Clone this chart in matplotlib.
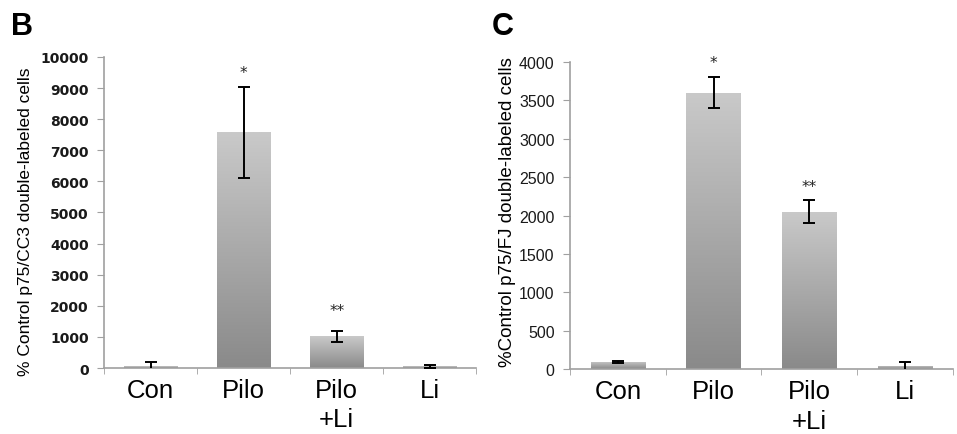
import numpy as np
import matplotlib.pyplot as plt
from matplotlib.colors import LinearSegmentedColormap

categories = ['Con', 'Pilo', 'Pilo\n+Li', 'Li']

# panel B: p75/CC3
b_values = [60, 7580, 1020, 50]
b_err = [140, 1470, 180, 50]
b_stars = ['', '*', '**', '']
b_star_y = [0, 9500, 1850, 0]

# panel C: p75/FJ
c_values = [92, 3600, 2050, 40]
c_err = [12, 200, 150, 60]
c_stars = ['', '*', '**', '']
c_star_y = [0, 4000, 2380, 0]

grad = LinearSegmentedColormap.from_list('g', ['#8a8a8a', '#c9c9c9'])


def panel(ax, values, err, stars, star_y, ymax, ystep, ylabel, lab_size,
          tickfont, ticksize, tickweight):
    x = np.arange(len(values))
    bars = ax.bar(x, values, width=0.57, color='none', edgecolor='none', zorder=2)
    for b in bars:
        x0, y0 = b.get_x(), b.get_y()
        w, h = b.get_width(), b.get_height()
        img = ax.imshow(np.linspace(1, 0, 100).reshape(-1, 1), cmap=grad, aspect='auto',
                        extent=[x0, x0 + w, y0, y0 + h], zorder=2, interpolation='bilinear')
        img.set_clip_path(b)
    ax.errorbar(x, values, yerr=err, fmt='none', ecolor='black', elinewidth=1.4,
                capsize=4.5, capthick=1.4, zorder=3)
    for xi, s, sy in zip(x, stars, star_y):
        if s:
            ax.text(xi, sy, s, ha='center', va='center', fontsize=11, color='#222222')
    ax.set_xlim(-0.5, len(values) - 0.5)
    ax.set_ylim(0, ymax)
    ax.set_yticks(np.arange(0, ymax + 1, ystep))
    ax.set_xticks(x)
    ax.set_xticklabels(categories, fontsize=18.5, family='Liberation Sans', linespacing=1.3)
    ax.set_xticks(np.arange(-0.5, len(values)), minor=True)
    ax.tick_params(axis='x', which='major', length=0, pad=7)
    ax.tick_params(axis='x', which='minor', length=4, color='#a0a0a0')
    ax.tick_params(axis='y', length=5, color='#a0a0a0', pad=6)
    for lab in ax.get_yticklabels():
        lab.set_family(tickfont)
        lab.set_fontsize(ticksize)
        lab.set_fontweight(tickweight)
        lab.set_color('#1a1a1a')
    for sp in ['top', 'right']:
        ax.spines[sp].set_visible(False)
    for sp in ['left', 'bottom']:
        ax.spines[sp].set_color('#a0a0a0')
        ax.spines[sp].set_linewidth(1.2)
    ax.set_ylabel(ylabel, fontsize=lab_size, family='Liberation Sans')


fig = plt.figure(figsize=(9.57, 4.35), dpi=100)
axB = fig.add_axes([0.1087, 0.1517, 0.389, 0.715])
axC = fig.add_axes([0.5956, 0.149, 0.400, 0.706])

panel(axB, b_values, b_err, b_stars, b_star_y, 10000, 1000,
      '% Control p75/CC3 double-labeled cells', 12.5, 'DejaVu Sans', 10, 'bold')
panel(axC, c_values, c_err, c_stars, c_star_y, 4000, 500,
      '%Control p75/FJ double-labeled cells', 13.5, 'Liberation Sans', 11.5, 'normal')
axB.yaxis.set_label_coords(-0.19, 0.473)
axC.yaxis.set_label_coords(-0.14, 0.515)

fig.text(0.012, 0.92, 'B', fontsize=22, fontweight='bold', family='Liberation Sans',
         va='baseline')
fig.text(0.514, 0.92, 'C', fontsize=22, fontweight='bold', family='Liberation Sans',
         va='baseline')

fig.savefig('out.png', dpi=100)
